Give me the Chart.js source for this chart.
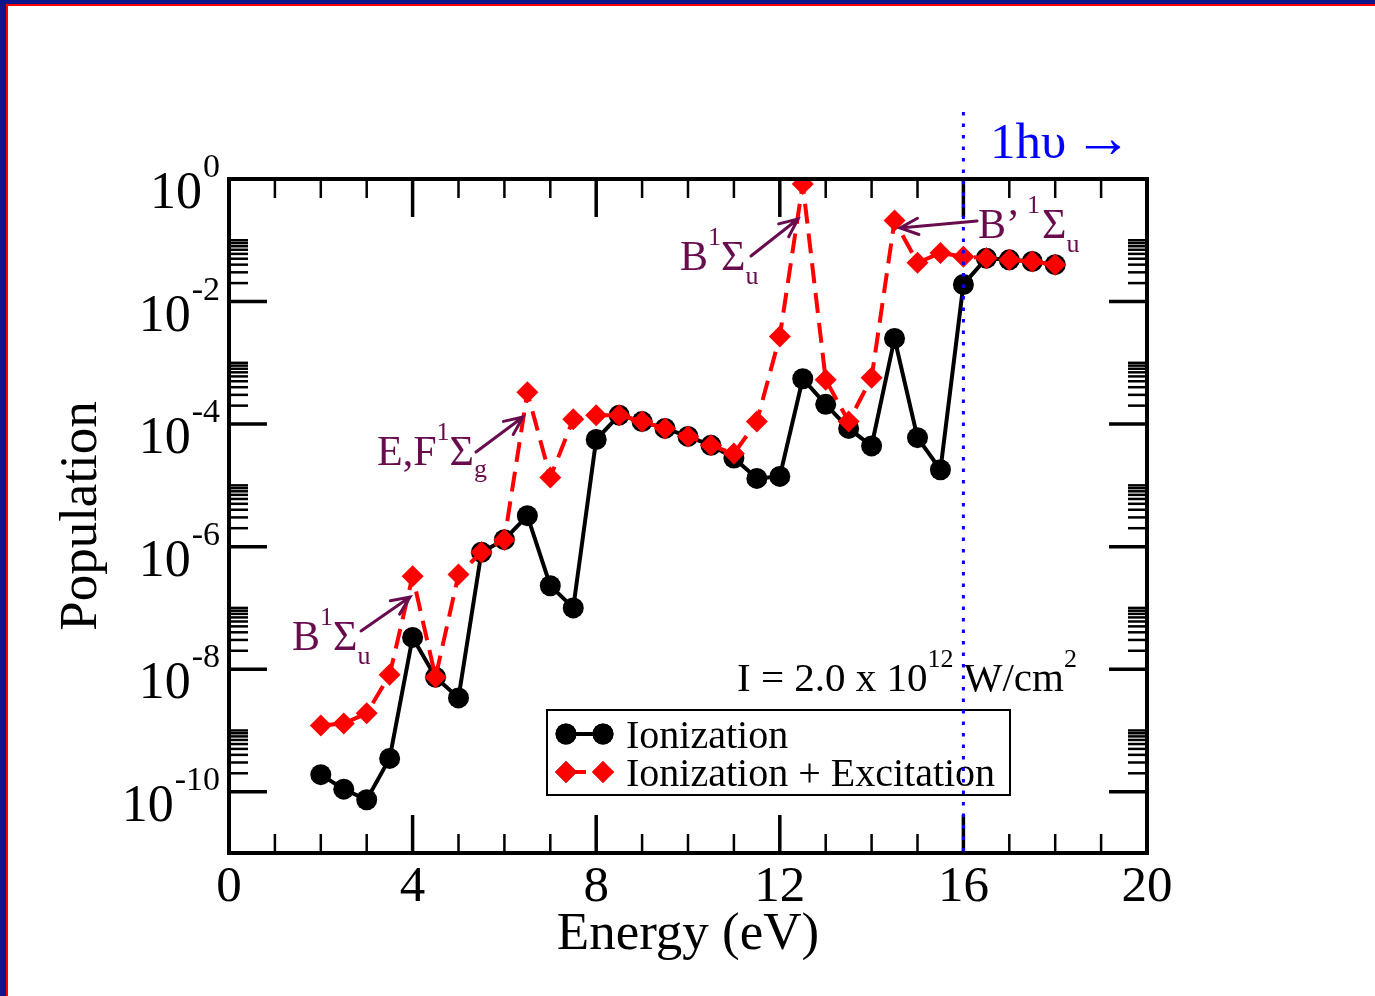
<!DOCTYPE html>
<html>
<head>
<meta charset="utf-8">
<title>Population vs Energy</title>
<script src="https://cdn.jsdelivr.net/npm/chart.js@4.4.0/dist/chart.umd.min.js"></script>
<style>
  html, body { margin: 0; padding: 0; background: #fff; }
  #wrap { width: 1375px; height: 996px; }
</style>
</head>
<body>
<div id="wrap"><canvas id="popChart" width="1375" height="996"></canvas></div>
<script>
// photon energy (eV)
const energy = [2, 2.5, 3, 3.5, 4, 4.5, 5, 5.5, 6, 6.5, 7, 7.5, 8, 8.5, 9, 9.5, 10,
                10.5, 11, 11.5, 12, 12.5, 13, 13.5, 14, 14.5, 15, 15.5, 16, 16.5, 17, 17.5, 18];

// populations
const ionization = [1.9e-10, 1.1e-10, 7.4e-11, 3.5e-10, 3.3e-8, 7.4e-9, 3.4e-9, 8.1e-7, 1.3e-6, 3.2e-6,
                    2.3e-7, 1.0e-7, 5.6e-5, 1.4e-4, 1.1e-4, 8.5e-5, 6.3e-5, 4.5e-5, 2.8e-5, 1.3e-5,
                    1.4e-5, 5.5e-4, 2.1e-4, 8.5e-5, 4.4e-5, 2.5e-3, 6.0e-5, 1.8e-5, 1.9e-2, 5.1e-2,
                    4.8e-2, 4.5e-2, 4.0e-2];
const ionExcitation = [1.2e-9, 1.3e-9, 1.9e-9, 8.1e-9, 3.3e-7, 7.4e-9, 3.5e-7, 8.1e-7, 1.3e-6, 3.3e-4,
                       1.35e-5, 1.2e-4, 1.4e-4, 1.4e-4, 1.1e-4, 8.5e-5, 6.3e-5, 4.5e-5, 3.3e-5, 1.1e-4,
                       2.7e-3, 0.83, 5.3e-4, 1.1e-4, 5.7e-4, 0.21, 4.3e-2, 6.2e-2, 5.4e-2, 5.1e-2,
                       4.8e-2, 4.5e-2, 4.0e-2];

const xMajorTicks = [0, 4, 8, 12, 16, 20];
const xMinorTicks = [1, 2, 3, 5, 6, 7, 9, 10, 11, 13, 14, 15, 17, 18, 19];
const yMajorExps = [0, -2, -4, -6, -8, -10];
const yMinorMults = [2, 3, 4, 5, 6, 7, 8, 9, 10];
const thresholdEnergy = 16;

const SERIF = '"Liberation Serif", "DejaVu Serif", serif';
const PURPLE = '#680c4e';

function toPoints(ys) {
    return energy.map((e, i) => ({ x: e, y: ys[i] }));
}

// draw a run of text pieces, each with its own size and vertical shift
function drawRich(ctx, parts, x, y, color) {
    ctx.save();
    ctx.fillStyle = color;
    ctx.textAlign = 'left';
    ctx.textBaseline = 'alphabetic';
    let cx = x;
    parts.forEach(p => {
        cx += p.dx || 0;
        ctx.font = `${p.size}px ${SERIF}`;
        ctx.fillText(p.t, cx, y + (p.dy || 0));
        cx += ctx.measureText(p.t).width;
    });
    ctx.restore();
    return cx;
}

function richWidth(ctx, parts) {
    let w = 0;
    parts.forEach(p => {
        ctx.font = `${p.size}px ${SERIF}`;
        w += ctx.measureText(p.t).width + (p.dx || 0);
    });
    return w;
}

function arrow(ctx, x0, y0, x1, y1) {
    const ang = Math.atan2(y1 - y0, x1 - x0);
    const head = 20, spread = 0.42;
    ctx.save();
    ctx.strokeStyle = PURPLE;
    ctx.lineWidth = 3;
    ctx.lineCap = 'round';
    ctx.beginPath();
    ctx.moveTo(x0, y0);
    ctx.lineTo(x1, y1);
    ctx.moveTo(x1 - head * Math.cos(ang - spread), y1 - head * Math.sin(ang - spread));
    ctx.lineTo(x1, y1);
    ctx.lineTo(x1 - head * Math.cos(ang + spread), y1 - head * Math.sin(ang + spread));
    ctx.stroke();
    ctx.restore();
}

const frame = {
    id: 'frame',
    beforeDraw(chart) {
        const ctx = chart.ctx;
        ctx.save();
        ctx.fillStyle = '#fff';
        ctx.fillRect(0, 0, chart.width, chart.height);
        // page border
        ctx.fillStyle = '#0d168a';
        ctx.fillRect(0, 0, chart.width, 4);
        ctx.fillRect(0, 0, 6, chart.height);
        ctx.fillStyle = '#ff0000';
        ctx.fillRect(6, 4, chart.width, 2);
        ctx.fillRect(6, 4, 2, chart.height);
        ctx.restore();
    },
    afterDatasetsDraw(chart) {
        const ctx = chart.ctx;
        const { left, right, top, bottom } = chart.chartArea;
        const xs = chart.scales.x, ys = chart.scales.y;
        ctx.save();

        // ticks, inward on all four sides
        ctx.strokeStyle = '#000';
        ctx.lineCap = 'butt';
        const tick = (x0, y0, x1, y1) => { ctx.beginPath(); ctx.moveTo(x0, y0); ctx.lineTo(x1, y1); ctx.stroke(); };
        ctx.lineWidth = 2.5;
        xMinorTicks.forEach(v => {
            const px = xs.getPixelForValue(v);
            tick(px, bottom, px, bottom - 19);
            tick(px, top, px, top + 19);
        });
        yMajorExps.slice(1).forEach(e => {
            yMinorMults.forEach(m => {
                const py = ys.getPixelForValue(m * Math.pow(10, e));
                tick(left, py, left + 19, py);
                tick(right, py, right - 19, py);
            });
        });
        ctx.lineWidth = 3.5;
        xMajorTicks.forEach(v => {
            const px = xs.getPixelForValue(v);
            tick(px, bottom, px, bottom - 38);
            tick(px, top, px, top + 38);
        });
        yMajorExps.forEach(e => {
            const py = ys.getPixelForValue(Math.pow(10, e));
            tick(left, py, left + 38, py);
            tick(right, py, right - 38, py);
        });
        ctx.lineWidth = 4;
        ctx.strokeRect(left, top, right - left, bottom - top);

        // x tick labels and title
        ctx.fillStyle = '#000';
        ctx.textAlign = 'center';
        ctx.textBaseline = 'alphabetic';
        ctx.font = `51px ${SERIF}`;
        xMajorTicks.forEach(v => ctx.fillText(String(v), xs.getPixelForValue(v), 901));
        ctx.font = `53px ${SERIF}`;
        ctx.fillText('Energy (eV)', (left + right) / 2, 949);

        // y tick labels 10^n
        yMajorExps.forEach(e => {
            const py = ys.getPixelForValue(Math.pow(10, e));
            const parts = [{ t: '10', size: 52, dy: 0 }, { t: String(e), size: 34, dy: -31, dx: 1 }];
            const w = richWidth(ctx, parts);
            drawRich(ctx, parts, 220 - w, py + 29, '#000');
        });

        // y title
        ctx.save();
        ctx.translate(96, (top + bottom) / 2);
        ctx.rotate(-Math.PI / 2);
        ctx.textAlign = 'center';
        ctx.font = `53px ${SERIF}`;
        ctx.fillText('Population', 0, 0);
        ctx.restore();

        // state labels and arrows
        const base = 42, small = 26;
        drawRich(ctx, [{ t: 'B', size: base }, { t: '1', size: small, dy: -25 }, { t: 'Σ', size: base },
                       { t: 'u', size: small, dy: 14 }], 292, 650, PURPLE);
        arrow(ctx, 361, 631, 410, 597);
        drawRich(ctx, [{ t: 'E,F', size: base }, { t: '1', size: small, dy: -25 }, { t: 'Σ', size: base },
                       { t: 'g', size: small, dy: 12 }], 377, 465, PURPLE);
        arrow(ctx, 476, 452, 523, 417);
        drawRich(ctx, [{ t: 'B', size: base }, { t: '1', size: small, dy: -25 }, { t: 'Σ', size: base },
                       { t: 'u', size: small, dy: 14 }], 680, 270, PURPLE);
        arrow(ctx, 751, 256, 798, 219);
        drawRich(ctx, [{ t: 'B’', size: base }, { t: '1', size: small, dy: -25, dx: 7 }, { t: 'Σ', size: base, dx: 2 },
                       { t: 'u', size: small, dy: 14 }], 978, 238, PURPLE);
        arrow(ctx, 977, 221, 900, 228);

        // intensity note
        drawRich(ctx, [{ t: 'I = 2.0 x 10', size: 41 }, { t: '12', size: 26, dy: -24 }, { t: ' W/cm', size: 41 },
                       { t: '2', size: 26, dy: -24 }], 737, 691, '#000');

        // legend
        const ds = chart.data.datasets;
        ctx.lineWidth = 2;
        ctx.strokeStyle = '#000';
        ctx.strokeRect(547, 710, 463, 85);
        const rows = [{ d: ds[1], y: 734 }, { d: ds[0], y: 772 }];
        rows.forEach(r => {
            ctx.save();
            ctx.strokeStyle = r.d.borderColor;
            ctx.lineWidth = r.d.borderWidth;
            ctx.setLineDash(r.d.borderDash || []);
            ctx.beginPath();
            ctx.moveTo(566, r.y);
            ctx.lineTo(603, r.y);
            ctx.stroke();
            ctx.restore();
            [566, 603].forEach(px => {
                Chart.helpers.drawPoint(ctx, {
                    pointStyle: r.d.pointStyle, radius: r.d.pointRadius, borderWidth: 0, rotation: 0
                }, px, r.y);
                ctx.fillStyle = r.d.pointBackgroundColor;
                ctx.fill();
            });
            ctx.fillStyle = '#000';
            ctx.font = `40px ${SERIF}`;
            ctx.textAlign = 'left';
            ctx.fillText(r.d.label, 626, r.y + 14);
        });

        // one-photon threshold
        const tx = xs.getPixelForValue(thresholdEnergy);
        ctx.save();
        ctx.strokeStyle = '#0000ff';
        ctx.lineWidth = 3;
        ctx.setLineDash([3.5, 8]);
        ctx.beginPath();
        ctx.moveTo(tx, 112);
        ctx.lineTo(tx, bottom);
        ctx.stroke();
        ctx.restore();
        ctx.fillStyle = '#0000ff';
        ctx.font = `51px ${SERIF}`;
        ctx.textAlign = 'left';
        ctx.fillText('1hυ', 990, 158);
        ctx.font = `58px ${SERIF}`;
        ctx.fillText('→', 1074, 157);

        ctx.restore();
    }
};

new Chart(document.getElementById('popChart'), {
    type: 'line',
    data: {
        datasets: [
            {
                label: 'Ionization + Excitation',
                data: toPoints(ionExcitation),
                borderColor: '#ff0000',
                borderWidth: 4,
                borderDash: [20, 10],
                pointStyle: 'rectRot',
                pointRadius: 11,
                pointBackgroundColor: '#ff0000',
                pointBorderWidth: 0,
                order: 0
            },
            {
                label: 'Ionization',
                data: toPoints(ionization),
                borderColor: '#000000',
                borderWidth: 4,
                pointStyle: 'circle',
                pointRadius: 10.5,
                pointBackgroundColor: '#000000',
                pointBorderWidth: 0,
                order: 1
            }
        ]
    },
    options: {
        responsive: false,
        animation: false,
        devicePixelRatio: 1,
        layout: { padding: { left: 229, right: 228, top: 179, bottom: 143 } },
        elements: { line: { tension: 0 } },
        scales: {
            x: { type: 'linear', min: 0, max: 20, display: false },
            y: { type: 'logarithmic', min: 1e-11, max: 1, display: false }
        },
        plugins: { legend: { display: false }, tooltip: { enabled: false } }
    },
    plugins: [frame]
});
</script>
</body>
</html>
